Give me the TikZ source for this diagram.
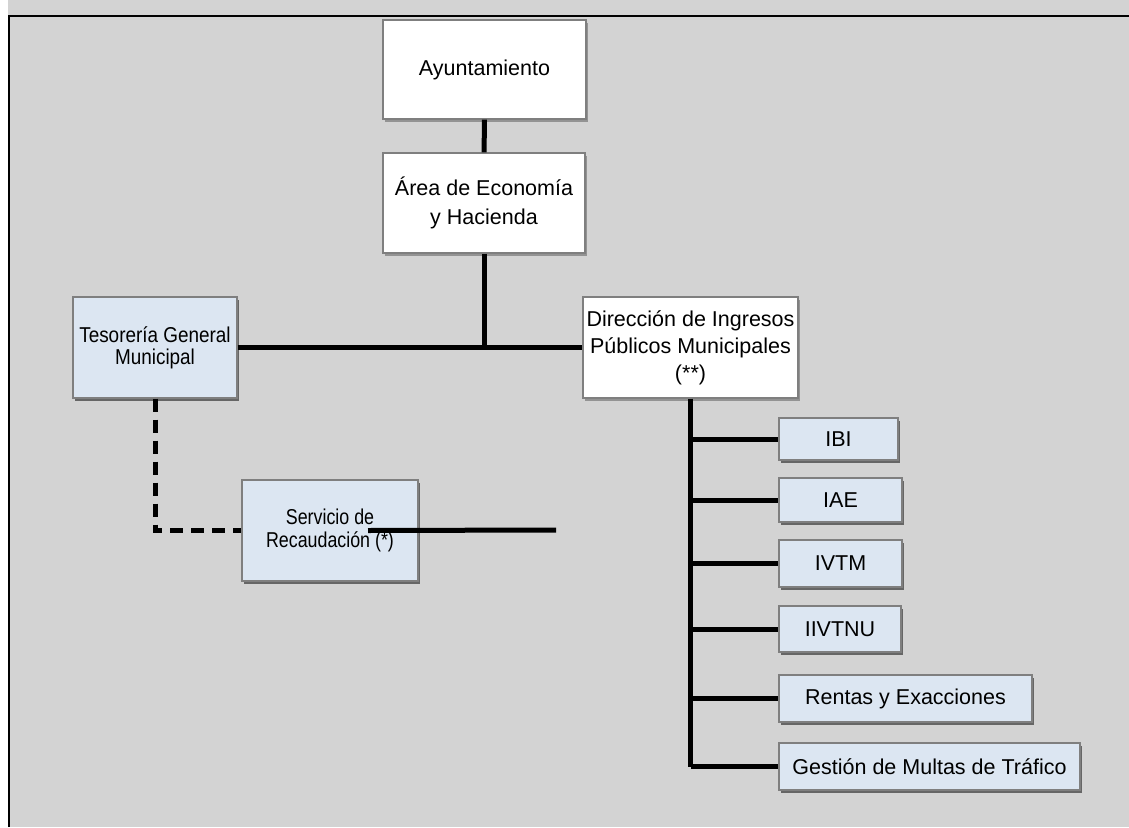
\documentclass[tikz,border=0pt]{standalone}
\usepackage{fontspec}
\setmainfont{Liberation Sans}
\newfontfamily\estrecha[FakeStretch=0.88]{Liberation Sans}
\newfontfamily\masestrecha[FakeStretch=0.83]{Liberation Sans}
\usetikzlibrary{shadows,calc}

\definecolor{fondo}{HTML}{D3D3D3}
\definecolor{celeste}{HTML}{DCE6F2}
\definecolor{borde}{HTML}{7F7F7F}

\begin{document}
\begin{tikzpicture}
  [x=1pt,y=-1pt,
   box/.style={rectangle,draw=borde,line width=1.2pt,fill=white,inner sep=0pt,align=center,
     font=\fontsize{21.5}{29}\selectfont,
     drop shadow={shadow xshift=1.5pt,shadow yshift=-2.5pt,opacity=0.3,fill=black}},
   bluebox/.style={box,fill=celeste},
   link/.style={line width=5pt},
   every node/.style={box}]
  % fondo y marco
  \useasboundingbox (0,0) rectangle (1129,827);
  \fill[fondo] (0,0) rectangle (1129,827);
  \fill[white] (0,0) rectangle (8,827);
  \draw[line width=2pt] (9,827) -- (9,16) -- (1129,16);

  \node (ayto) at (484.5,69.5) [minimum width=203,minimum height=99] {Ayuntamiento};
  \node (area) at (484,203) [minimum width=202,minimum height=100] {Área de Economía\\y Hacienda};
  \node (teso) at (155,347.5) [bluebox,minimum width=164,minimum height=101,
    font=\estrecha\fontsize{21.5}{22}\selectfont] {Tesorería General\\Municipal};
  \node (dir) at (690.5,347.5) [minimum width=215,minimum height=101,
    font=\fontsize{21.5}{27}\selectfont] {Dirección de Ingresos\\Públicos Municipales\\(**)};
  \node (serv) at (330,530.5) [bluebox,minimum width=176,minimum height=101,
    font=\masestrecha\fontsize{21.5}{23}\selectfont] {Servicio de\\Recaudación (*)};

  \node (ibi) at (838.5,439) [bluebox,minimum width=119,minimum height=42] {IBI};
  \node (iae) at (840.5,500) [bluebox,minimum width=123,minimum height=44] {IAE};
  \node (ivtm) at (840.5,563.5) [bluebox,minimum width=123,minimum height=47] {IVTM};
  \node (iivtnu) at (840,629) [bluebox,minimum width=122,minimum height=46] {IIVTNU};
  \node (rentas) at (905.5,698.5) [bluebox,minimum width=253,minimum height=47] {Rentas y Exacciones};
  \node (multas) at (929.5,766.5) [bluebox,minimum width=301,minimum height=47] {Gestión de Multas de Tráfico};

  \coordinate (cruce) at (area.south |- teso.east);
  \coordinate (recfin) at (556,530);

  \draw[link] (ayto) -- (area);
  \draw[link] (area) -- (cruce);
  \draw[link] (teso) -- (dir);
  \draw[link,dash pattern=on 13pt off 8pt] (teso.south) |- (serv.west);
  \draw[link] ($(serv.center)+(38,0)$) -- (recfin);

  \draw[link] (dir.south) -- (dir.south |- multas.west);
  \foreach \hijo in {ibi,iae,ivtm,iivtnu,rentas,multas}
  \draw[link] (dir.south |- \hijo.west) -- (\hijo.west);
\end{tikzpicture}
\end{document}
